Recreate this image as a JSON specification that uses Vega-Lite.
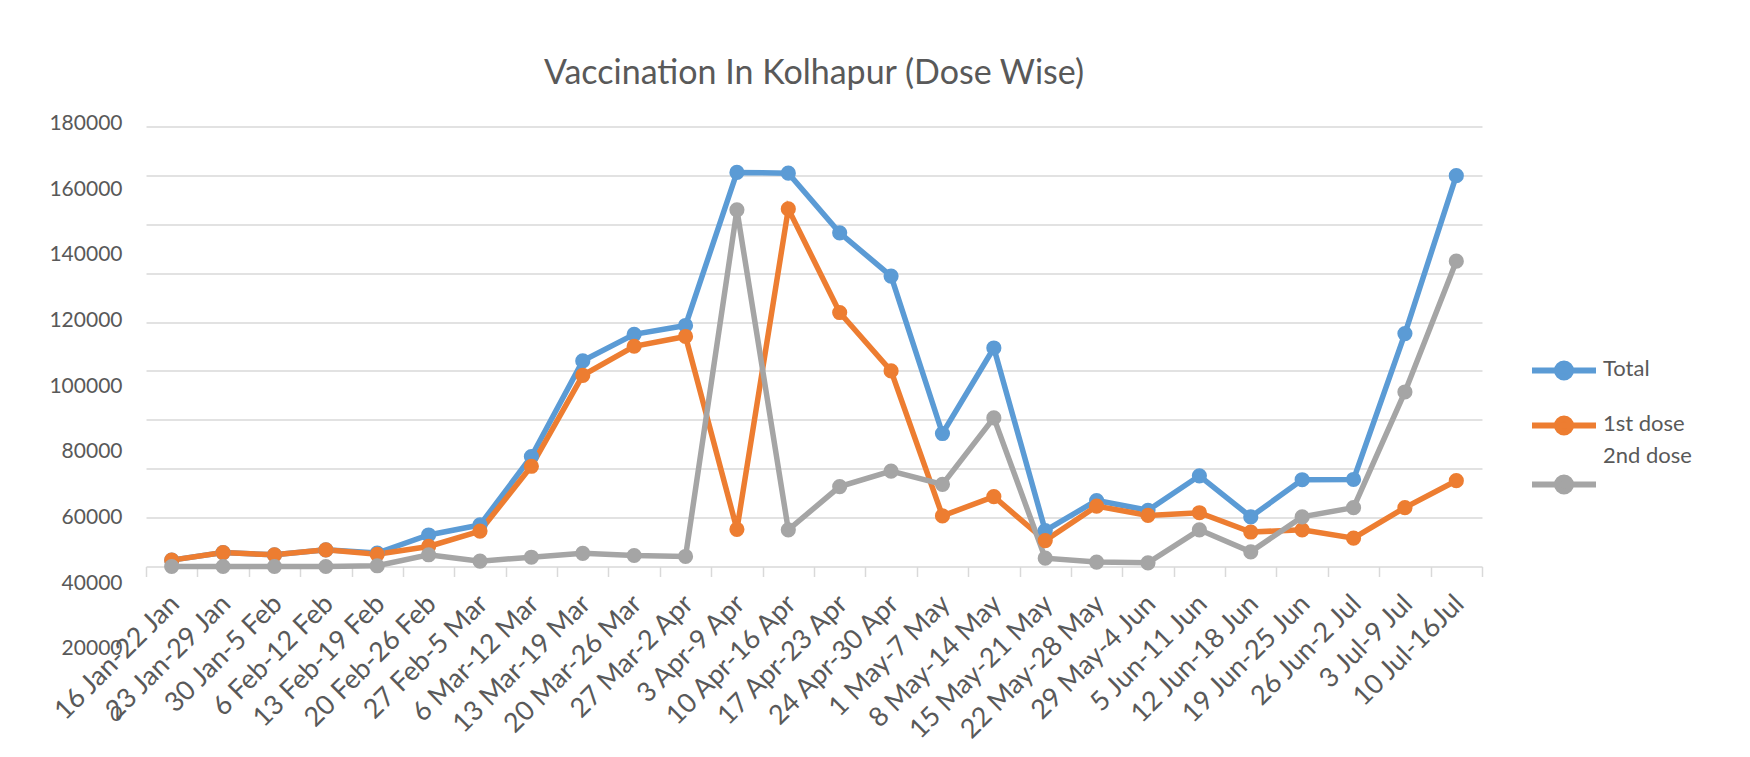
{
  "$schema": "https://vega.github.io/schema/vega-lite/v6.json",
  "width": 1336,
  "height": 440,
  "autosize": {"type": "none"},
  "padding": {"left": 146, "top": 126.5, "right": 268, "bottom": 190.5},
  "background": "white",
  "config": {"view": {"stroke": null}, "font": "Lato"},
  "title": {"text": "Vaccination In Kolhapur (Dose Wise)", "font": "Lato", "fontSize": 34, "fontWeight": "normal", "color": "#595959", "offset": 22, "anchor": "middle"},
  "data": {"values": [
    {"week": "16 Jan-22 Jan", "series": "Total", "value": 2600},
    {"week": "23 Jan-29 Jan", "series": "Total", "value": 5700},
    {"week": "30 Jan-5 Feb", "series": "Total", "value": 4800},
    {"week": "6 Feb-12 Feb", "series": "Total", "value": 6800},
    {"week": "13 Feb-19 Feb", "series": "Total", "value": 5500},
    {"week": "20 Feb-26 Feb", "series": "Total", "value": 12900},
    {"week": "27 Feb-5 Mar", "series": "Total", "value": 17000},
    {"week": "6 Mar-12 Mar", "series": "Total", "value": 45000},
    {"week": "13 Mar-19 Mar", "series": "Total", "value": 84100},
    {"week": "20 Mar-26 Mar", "series": "Total", "value": 95000},
    {"week": "27 Mar-2 Apr", "series": "Total", "value": 98600},
    {"week": "3 Apr-9 Apr", "series": "Total", "value": 161200},
    {"week": "10 Apr-16 Apr", "series": "Total", "value": 160900},
    {"week": "17 Apr-23 Apr", "series": "Total", "value": 136500},
    {"week": "24 Apr-30 Apr", "series": "Total", "value": 118800},
    {"week": "1 May-7 May", "series": "Total", "value": 54400},
    {"week": "8 May-14 May", "series": "Total", "value": 89400},
    {"week": "15 May-21 May", "series": "Total", "value": 14700},
    {"week": "22 May-28 May", "series": "Total", "value": 27000},
    {"week": "29 May-4 Jun", "series": "Total", "value": 23000},
    {"week": "5 Jun-11 Jun", "series": "Total", "value": 37100},
    {"week": "12 Jun-18 Jun", "series": "Total", "value": 20300},
    {"week": "19 Jun-25 Jun", "series": "Total", "value": 35500},
    {"week": "26 Jun-2 Jul", "series": "Total", "value": 35600},
    {"week": "3 Jul-9 Jul", "series": "Total", "value": 95300},
    {"week": "10 Jul-16Jul", "series": "Total", "value": 159900},
    {"week": "16 Jan-22 Jan", "series": "1st dose", "value": 2600},
    {"week": "23 Jan-29 Jan", "series": "1st dose", "value": 5700},
    {"week": "30 Jan-5 Feb", "series": "1st dose", "value": 4800},
    {"week": "6 Feb-12 Feb", "series": "1st dose", "value": 6800},
    {"week": "13 Feb-19 Feb", "series": "1st dose", "value": 5000},
    {"week": "20 Feb-26 Feb", "series": "1st dose", "value": 8200},
    {"week": "27 Feb-5 Mar", "series": "1st dose", "value": 14500},
    {"week": "6 Mar-12 Mar", "series": "1st dose", "value": 41000},
    {"week": "13 Mar-19 Mar", "series": "1st dose", "value": 78200},
    {"week": "20 Mar-26 Mar", "series": "1st dose", "value": 90100},
    {"week": "27 Mar-2 Apr", "series": "1st dose", "value": 94100},
    {"week": "3 Apr-9 Apr", "series": "1st dose", "value": 15200},
    {"week": "10 Apr-16 Apr", "series": "1st dose", "value": 146300},
    {"week": "17 Apr-23 Apr", "series": "1st dose", "value": 103900},
    {"week": "24 Apr-30 Apr", "series": "1st dose", "value": 80000},
    {"week": "1 May-7 May", "series": "1st dose", "value": 20700},
    {"week": "8 May-14 May", "series": "1st dose", "value": 28600},
    {"week": "15 May-21 May", "series": "1st dose", "value": 10600},
    {"week": "22 May-28 May", "series": "1st dose", "value": 24700},
    {"week": "29 May-4 Jun", "series": "1st dose", "value": 20900},
    {"week": "5 Jun-11 Jun", "series": "1st dose", "value": 22000},
    {"week": "12 Jun-18 Jun", "series": "1st dose", "value": 14100},
    {"week": "19 Jun-25 Jun", "series": "1st dose", "value": 15000},
    {"week": "26 Jun-2 Jul", "series": "1st dose", "value": 11600},
    {"week": "3 Jul-9 Jul", "series": "1st dose", "value": 24100},
    {"week": "10 Jul-16Jul", "series": "1st dose", "value": 35100},
    {"week": "16 Jan-22 Jan", "series": "2nd dose", "value": 0},
    {"week": "23 Jan-29 Jan", "series": "2nd dose", "value": 0},
    {"week": "30 Jan-5 Feb", "series": "2nd dose", "value": 0},
    {"week": "6 Feb-12 Feb", "series": "2nd dose", "value": 0},
    {"week": "13 Feb-19 Feb", "series": "2nd dose", "value": 300},
    {"week": "20 Feb-26 Feb", "series": "2nd dose", "value": 4800},
    {"week": "27 Feb-5 Mar", "series": "2nd dose", "value": 2200},
    {"week": "6 Mar-12 Mar", "series": "2nd dose", "value": 3800},
    {"week": "13 Mar-19 Mar", "series": "2nd dose", "value": 5400},
    {"week": "20 Mar-26 Mar", "series": "2nd dose", "value": 4500},
    {"week": "27 Mar-2 Apr", "series": "2nd dose", "value": 4100},
    {"week": "3 Apr-9 Apr", "series": "2nd dose", "value": 145900},
    {"week": "10 Apr-16 Apr", "series": "2nd dose", "value": 15000},
    {"week": "17 Apr-23 Apr", "series": "2nd dose", "value": 32700},
    {"week": "24 Apr-30 Apr", "series": "2nd dose", "value": 39000},
    {"week": "1 May-7 May", "series": "2nd dose", "value": 33600},
    {"week": "8 May-14 May", "series": "2nd dose", "value": 60800},
    {"week": "15 May-21 May", "series": "2nd dose", "value": 3400},
    {"week": "22 May-28 May", "series": "2nd dose", "value": 1800},
    {"week": "29 May-4 Jun", "series": "2nd dose", "value": 1500},
    {"week": "5 Jun-11 Jun", "series": "2nd dose", "value": 15000},
    {"week": "12 Jun-18 Jun", "series": "2nd dose", "value": 6000},
    {"week": "19 Jun-25 Jun", "series": "2nd dose", "value": 20300},
    {"week": "26 Jun-2 Jul", "series": "2nd dose", "value": 24100},
    {"week": "3 Jul-9 Jul", "series": "2nd dose", "value": 71400},
    {"week": "10 Jul-16Jul", "series": "2nd dose", "value": 124900}
  ]},
  "layer": [
    {
      "mark": {"type": "line", "strokeWidth": 5.5, "point": {"filled": true, "size": 230, "opacity": 1}},
      "encoding": {
        "x": {
          "field": "week", "type": "ordinal", "sort": null,
          "scale": {"type": "band", "paddingInner": 0, "paddingOuter": 0},
          "axis": {"title": null, "labelAngle": -45, "labelAlign": "right", "labelBaseline": "middle", "labelFont": "Lato", "labelFontSize": 27, "labelColor": "#595959", "labelPadding": 23, "labelOffset": 3, "labelLimit": 400, "labelOverlap": false, "tickBand": "extent", "tickSize": 10, "tickColor": "#d9d9d9", "tickWidth": 1.5, "domainColor": "#d9d9d9", "domainWidth": 1.5, "grid": false}
        },
        "y": {
          "field": "value", "type": "quantitative",
          "scale": {"domain": [0, 180000], "nice": false},
          "axis": {"title": null, "values": [20000, 40000, 60000, 80000, 100000, 120000, 140000, 160000, 180000], "grid": true, "gridColor": "#d9d9d9", "gridWidth": 1.5, "labels": false, "ticks": false, "domain": false}
        },
        "color": {
          "field": "series", "type": "nominal",
          "scale": {"domain": ["Total", "1st dose", "2nd dose"], "range": ["#5B9BD5", "#ED7D31", "#A5A5A5"]},
          "legend": {
            "title": null, "orient": "none", "legendX": 1383, "legendY": 209,
            "labelFont": "Lato", "labelFontSize": 22, "labelColor": "#595959", "labelOffset": 4, "labelLimit": 300,
            "labelBaseline": "middle",
            "symbolType": "M-1,0H1M0.22,0A0.22,0.22,0,1,1,-0.22,0A0.22,0.22,0,1,1,0.22,0Z",
            "symbolSize": 4096, "symbolStrokeWidth": 6, "rowPadding": -1,
            "encode": {
              "symbols": {"update": {"fill": {"scale": "color", "field": "value"}, "stroke": {"scale": "color", "field": "value"}, "opacity": {"value": 1}}},
              "labels": {"update": {"dy": {"signal": "datum.value === '2nd dose' ? -29 : -2"}}}
            }
          }
        }
      }
    },
    {
      "mark": {"type": "point", "opacity": 0},
      "encoding": {
        "x": {"field": "week", "type": "ordinal", "sort": null},
        "y": {
          "field": "value", "type": "quantitative",
          "scale": {"domain": [0, 180000], "nice": false, "range": [588, -3]},
          "axis": {"orient": "left", "title": null, "values": [0, 20000, 40000, 60000, 80000, 100000, 120000, 140000, 160000, 180000], "format": "d", "grid": false, "domain": false, "ticks": false, "tickSize": 0, "labelPadding": 24, "labelFont": "Lato", "labelFontSize": 21, "labelColor": "#595959"}
        }
      }
    }
  ],
  "resolve": {"scale": {"y": "independent"}, "axis": {"y": "independent"}}
}
